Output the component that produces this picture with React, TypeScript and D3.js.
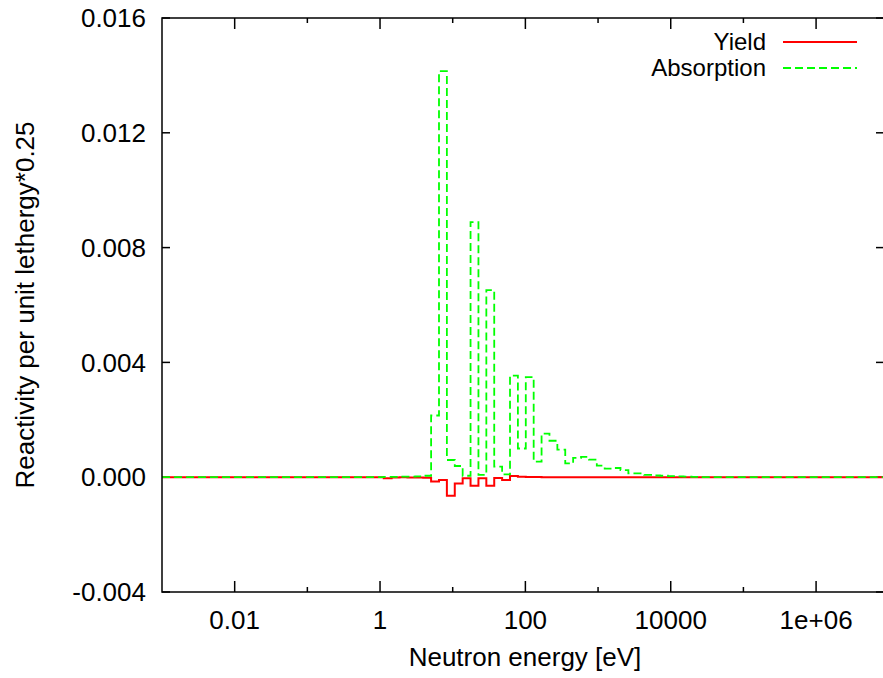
import React from "react";
import * as d3 from "d3";

// Lethargy group lower edges (eV), groups of width 0.25 in lethargy
const groupLowerEnergy: number[] = [
  1.1254, 1.445, 1.8554, 2.3824, 3.059, 3.9279, 5.0435, 6.476, 8.3153, 10.677,
  13.71, 17.603, 22.603, 29.023, 37.267, 47.851, 61.442, 78.893, 101.3, 130.07,
  167.02, 214.45, 275.36, 353.58, 454.0, 582.95, 748.52, 961.12, 1234.1, 1584.6,
  2034.7, 2612.6, 3354.6, 4307.4, 5530.8, 7101.7, 9118.8, 11709, 15034, 19305,
];
const groupUpperEnd = 24788;

// Reactivity per unit lethargy * 0.25
const absorption: number[] = [
  0.00001, 0.00001, 0.00002, 0.00002, 0.00003, 0.00005, 0.00215, 0.01415, 0.0006, 0.00039,
  0.00005, 0.00889, 0.00008, 0.00652, 0.00037, 0.0001, 0.00354, 0.001, 0.00349, 0.00054,
  0.00152, 0.00127, 0.00096, 0.00048, 0.00067, 0.00071, 0.00061, 0.0004, 0.0003, 0.00032,
  0.00025, 0.00013, 0.00013, 0.00008, 0.00006, 0.00005, 0.00004, 0.00003, 0.00002, 0.00001,
];
const yieldVals: number[] = [
  -0.00004, -0.00001, 0.0, -0.00001, -0.00001, -0.00002, -0.00015, -0.0001, -0.00065, -0.00022,
  -0.00004, -0.0003, -0.00004, -0.0003, -0.00003, -0.0001, 0.00004, 0.00002, 0.00001, 0.00001,
  0, 0, 0, 0, 0, 0, 0, 0, 0, 0,
  0, 0, 0, 0, 0, 0, 0, 0, 0, 0,
];

const xDomain: [number, number] = [1e-3, 8.6e6];
const yDomain: [number, number] = [-0.004, 0.016];
const xMajorTicks = [0.01, 1, 100, 10000, 1e6];
const xMajorLabels = ["0.01", "1", "100", "10000", "1e+06"];
const xMinorTicks = [0.1, 10, 1000, 1e5];
const yTicks = [-0.004, 0, 0.004, 0.008, 0.012, 0.016];
const seriesNames = ["Yield", "Absorption"];

const W = 883;
const H = 678;
const M = { left: 162, top: 18, right: 884, bottom: 592 };
const FONT = "'Liberation Sans', Arial, sans-serif";
const LABEL_SIZE = 26;
const LEGEND_SIZE = 24;

export default function App() {
  const x = d3.scaleLog().domain(xDomain).range([M.left, M.right]);
  const y = d3.scaleLinear().domain(yDomain).range([M.bottom, M.top]);

  const buildPts = (vals: number[]): [number, number][] => {
    const pts: [number, number][] = [[xDomain[0], 0]];
    groupLowerEnergy.forEach((e, i) => pts.push([e, vals[i]]));
    pts.push([groupUpperEnd, 0]);
    pts.push([xDomain[1], 0]);
    return pts;
  };
  const line = d3
    .line<[number, number]>()
    .x((d) => x(d[0]))
    .y((d) => y(d[1]))
    .curve(d3.curveStepAfter);

  const yPath = line(buildPts(yieldVals)) || "";
  const aPath = line(buildPts(absorption)) || "";
  const fmt = (v: number) => v.toFixed(3).replace("−", "-");

  return (
    <div style={{ position: "fixed", left: 0, top: 0 }}>
      <svg width={W} height={H} style={{ display: "block", background: "#fff" }}>
        <defs>
          <clipPath id="plotclip">
            <rect x={M.left} y={M.top} width={M.right - M.left} height={M.bottom - M.top} />
          </clipPath>
        </defs>
        {/* y ticks */}
        {yTicks.map((t) => (
          <g key={"y" + t}>
            <line x1={M.left} x2={M.left + 8} y1={y(t)} y2={y(t)} stroke="#000" strokeWidth={1.5} />
            <line x1={M.right} x2={M.right - 8} y1={y(t)} y2={y(t)} stroke="#000" strokeWidth={1.5} />
            <text
              x={146}
              y={y(t)}
              dy="0.35em"
              textAnchor="end"
              fontFamily={FONT}
              fontSize={LABEL_SIZE}
              fill="#000"
            >
              {fmt(t)}
            </text>
          </g>
        ))}
        {/* x ticks */}
        {xMajorTicks.map((t, i) => (
          <g key={"xm" + t}>
            <line x1={x(t)} x2={x(t)} y1={M.bottom} y2={M.bottom - 11} stroke="#000" strokeWidth={1.5} />
            <line x1={x(t)} x2={x(t)} y1={M.top} y2={M.top + 11} stroke="#000" strokeWidth={1.5} />
            <text
              x={x(t)}
              y={620}
              dy="0.35em"
              textAnchor="middle"
              fontFamily={FONT}
              fontSize={LABEL_SIZE}
              fill="#000"
            >
              {xMajorLabels[i]}
            </text>
          </g>
        ))}
        {xMinorTicks.map((t) => (
          <g key={"xn" + t}>
            <line x1={x(t)} x2={x(t)} y1={M.bottom} y2={M.bottom - 5} stroke="#000" strokeWidth={1.5} />
            <line x1={x(t)} x2={x(t)} y1={M.top} y2={M.top + 5} stroke="#000" strokeWidth={1.5} />
          </g>
        ))}
        {/* data */}
        <g clipPath="url(#plotclip)">
          <path d={yPath} fill="none" stroke="#ff0000" strokeWidth={2} />
          <path d={aPath} fill="none" stroke="#00ff00" strokeWidth={1.8} strokeDasharray="8,4" />
        </g>
        {/* border */}
        <rect
          x={M.left}
          y={M.top}
          width={M.right - M.left}
          height={M.bottom - M.top}
          fill="none"
          stroke="#000"
          strokeWidth={1.5}
        />
        {/* legend */}
        <text x={766} y={42} dy="0.35em" textAnchor="end" fontFamily={FONT} fontSize={LEGEND_SIZE} fill="#000">
          {seriesNames[0]}
        </text>
        <line x1={783} x2={857} y1={42} y2={42} stroke="#ff0000" strokeWidth={2} />
        <text x={766} y={68} dy="0.35em" textAnchor="end" fontFamily={FONT} fontSize={LEGEND_SIZE} fill="#000">
          {seriesNames[1]}
        </text>
        <line x1={783} x2={857} y1={68} y2={68} stroke="#00ff00" strokeWidth={1.8} strokeDasharray="8,4" />
        {/* axis titles */}
        <text
          x={525}
          y={657}
          dy="0.35em"
          textAnchor="middle"
          fontFamily={FONT}
          fontSize={LABEL_SIZE}
          fill="#000"
        >
          Neutron energy [eV]
        </text>
        <text
          transform={`translate(25, ${(M.top + M.bottom) / 2}) rotate(-90)`}
          dy="0.35em"
          textAnchor="middle"
          fontFamily={FONT}
          fontSize={LABEL_SIZE}
          fill="#000"
        >
          Reactivity per unit lethergy*0.25
        </text>
      </svg>
    </div>
  );
}
